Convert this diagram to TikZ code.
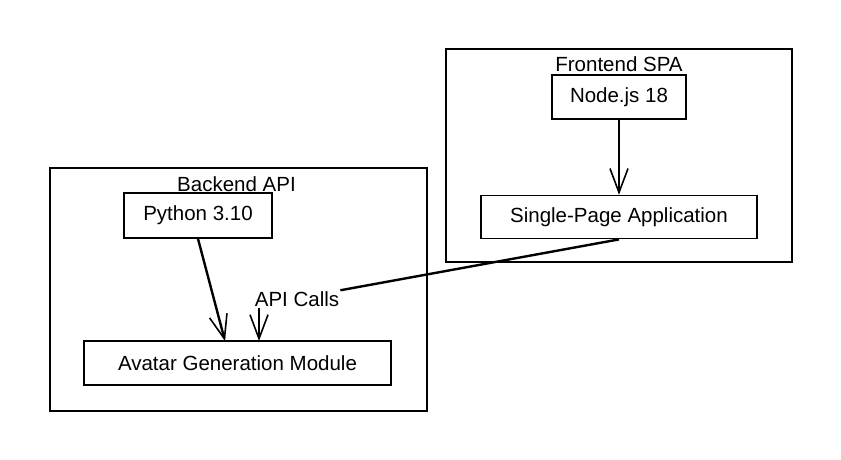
\documentclass[tikz,border=0pt]{standalone}
\usepackage{fontspec}
\setmainfont{Liberation Sans}
\usetikzlibrary{arrows.meta,positioning}

\begin{document}
\begin{tikzpicture}[x=1pt,y=-1pt,
	box/.style={draw,line width=1.6pt,inner sep=0pt,minimum height=44pt},
	group/.style={draw,line width=1.6pt,inner sep=0pt},
	title/.style={inner sep=1pt},
	flow/.style={line width=2.4pt,-{Straight Barb[length=24pt,width=18pt,line width=1.6pt]}}]
\useasboundingbox (0,0) rectangle (841,460);
\tikzset{every node/.style={font=\fontsize{20.5}{24}\selectfont}}
% frontend
\node[group,minimum width=346pt,minimum height=213pt] (front) at (619,155.5) {};
\node[title] (fronttitle) at (619,64) {Frontend SPA};
\node[box,minimum width=134pt] (node) at (619,97) {Node.js 18};
\node[box,minimum width=276pt,minimum height=43pt,below=75pt of node] (spa) {Single-Page Application};
% backend
\node[group,minimum width=377pt,minimum height=243pt] (back) at (238.5,289.5) {};
\node[title] (backtitle) at (236.5,184) {Backend API};
\node[box,minimum width=148pt,minimum height=45pt] (python) at (198,215.5) {Python 3.10};
\node[box,minimum width=307pt] (avatar) at (237.5,363) {Avatar Generation Module};
\node[title] (calls) at (297,299) {API Calls};
\coordinate (pyin) at (225,341);
\coordinate (callin) at (259,341);

\draw[flow] (node) -- (spa);
\draw[flow] (python.south) -- (pyin);
\draw[line width=2.4pt] (spa.south) -- (calls.north east);
\draw[flow] (calls.south -| callin) -- (callin);
\end{tikzpicture}
\end{document}
